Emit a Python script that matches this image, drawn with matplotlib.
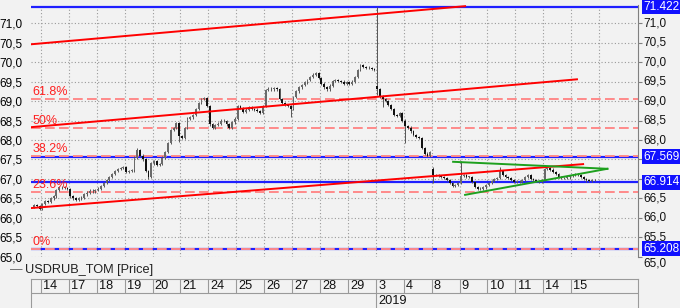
import matplotlib
matplotlib.use("Agg")
import matplotlib.pyplot as plt
import matplotlib.transforms as mtransforms
import numpy as np

plt.rcParams['font.family'] = ['Liberation Sans', 'DejaVu Sans']

# USDRUB_TOM, roughly 10 bars per trading day, closes
day_names = ["", "14", "17", "18", "19", "20", "21", "24", "25", "26", "27", "28", "29",
             "3", "4", "8", "9", "10", "11", "14", "15"]
day_closes = [
    [66.33, 66.30, 66.22],
    [66.35, 66.42, 66.40, 66.50, 66.55, 66.72, 66.78, 66.80, 66.76, 66.74],
    [66.55, 66.50, 66.47, 66.50, 66.52, 66.60, 66.65, 66.70, 66.68, 66.72],
    [66.75, 66.82, 66.90, 66.98, 67.05, 67.12, 67.20, 67.26, 67.28, 67.30],
    [67.18, 67.20, 67.22, 67.55, 67.75, 67.60, 67.50, 67.20, 67.05, 67.40],
    [67.45, 67.35, 67.38, 67.55, 67.70, 67.92, 68.25, 68.30, 68.43, 68.10],
    [68.05, 68.30, 68.55, 68.58, 68.65, 68.80, 68.95, 69.05, 69.08, 68.88],
    [68.40, 68.30, 68.38, 68.42, 68.50, 68.48, 68.40, 68.30, 68.45, 68.55],
    [68.88, 68.82, 68.72, 68.78, 68.85, 68.80, 68.78, 68.75, 68.70, 68.88],
    [69.28, 69.32, 69.30, 69.34, 69.30, 69.05, 68.95, 68.90, 68.88, 68.80],
    [69.10, 69.25, 69.35, 69.42, 69.48, 69.55, 69.62, 69.68, 69.72, 69.60],
    [69.45, 69.35, 69.30, 69.40, 69.52, 69.55, 69.52, 69.50, 69.45, 69.48],
    [69.45, 69.50, 69.62, 69.80, 69.92, 69.88, 69.86, 69.85, 69.82, 69.80],
    [69.30, 69.12, 69.05, 69.00, 68.90, 68.80, 68.65, 68.62, 68.70, 68.50],
    [68.35, 68.32, 68.22, 68.12, 68.08, 68.05, 67.80, 67.65, 67.60, 67.70],
    [67.10, 67.10, 67.08, 67.05, 67.02, 66.97, 66.90, 66.82, 66.85, 66.90],
    [67.08, 67.10, 67.05, 67.05, 66.92, 66.80, 66.75, 66.74, 66.78, 66.85],
    [66.90, 66.95, 67.00, 67.02, 67.20, 67.10, 67.05, 67.02, 66.97, 66.93],
    [66.93, 66.92, 66.98, 67.05, 67.10, 67.00, 66.96, 66.94, 66.93, 66.98],
    [67.25, 67.28, 67.24, 67.18, 67.12, 67.05, 67.02, 67.02, 67.04, 67.08],
    [67.10, 67.12, 67.10, 67.05, 67.00, 66.96, 66.94, 66.97, 66.98],
]
# gaps and long wicks (keyed by bar slot)
open_gaps = {-3: 66.28, 120: 69.40, 140: 67.25}
high_spikes = {34: 67.80, 120: 71.422, 140: 67.30, 150: 67.45, 164: 67.30}
low_spikes = {38: 67.00, 49: 67.95, 89: 68.60, 120: 69.15, 122: 68.85, 130: 67.92, 140: 66.90}

levels_blue = [71.422, 67.569, 66.914, 65.208]
fib_names = ["0%", "23.6%", "38.2%", "50%", "61.8%"]
fib_levels = [65.208, 66.675, 67.582, 68.315, 69.048]
channel_lines = [[(-3.6, 70.46), (152.0, 71.44)],
                 [(-3.6, 68.33), (192.1, 69.56)],
                 [(-3.6, 66.25), (194.3, 67.38)]]
triangle_lines = [[(147.7, 67.44), (203.0, 67.26)],
                  [(152.0, 66.59), (203.0, 67.26)]]

# build bars
slots, closes = [], []
for d, cl in enumerate(day_closes):
    base = -len(cl) if d == 0 else (d - 1) * 10
    for j, c in enumerate(cl):
        slots.append(base + j)
        closes.append(c)
opens, highs, lows = [], [], []
prev = None
for s, c in zip(slots, closes):
    o = open_gaps.get(s, prev if prev is not None else c)
    opens.append(o)
    highs.append(high_spikes.get(s, max(o, c) + 0.03))
    lows.append(low_spikes.get(s, min(o, c) - 0.03))
    prev = c
x = np.array(slots) + 0.5
opens, closes = np.array(opens), np.array(closes)

bg = "#f2f2f2"
fig = plt.figure(figsize=(6.8, 3.08), dpi=100, facecolor=bg)
ax = fig.add_axes([31 / 680, 1 - 257.3 / 308, 607 / 680, 252.3 / 308], facecolor=bg)
xmin, xmax = -3.58, 213.97
ax.set_xlim(xmin, xmax)
ax.set_ylim(64.985, 71.47)

yt = np.arange(65.0, 71.01, 0.5)
ax.set_yticks(yt)
ax.set_yticklabels([f"{v:.1f}".replace(".", ",") for v in yt])
ax.tick_params(axis='y', labelleft=True, labelright=False, labelsize=8.5,
               left=False, right=True, length=3, color="#808080", pad=3)
ax.set_xticks([10 * k for k in range(21)])
ax.tick_params(axis='x', bottom=False, labelbottom=False)
ax.grid(True, color="#9a9a9a", ls=(0, (1, 2)), lw=0.8)
for sp in ["top", "bottom", "left"]:
    ax.spines[sp].set_visible(False)
ax.spines["right"].set_color("#808080")

tr = mtransforms.blended_transform_factory(ax.transAxes, ax.transData)
# right-hand labels; the ones under a value box are hidden like in the terminal
for v in yt[1:]:
    if min(abs(v - lv) for lv in levels_blue) < 0.15:
        continue
    ax.text(1.009, v, f"{v:.1f}".replace(".", ","), transform=tr, fontsize=8.5,
            va="center", ha="left", clip_on=False, color="#111111")
# 65,0 peeks out just below the 65.208 box
ax.text(1.009, 64.985, "65,0", transform=tr, fontsize=8.5, va="top", ha="left",
        clip_on=False, color="#111111", zorder=1)

# candles
ax.vlines(x, lows, highs, color="#555555", lw=0.7, zorder=3)
up = closes >= opens
body_b = np.minimum(opens, closes)
body_h = np.maximum(np.abs(closes - opens), 0.012)
ax.bar(x[up], body_h[up], bottom=body_b[up], width=0.65, color="#6a6a6a", zorder=3)
ax.bar(x[~up], body_h[~up], bottom=body_b[~up], width=0.65, color="#111111", zorder=3)

# horizontal levels
for lv in levels_blue:
    ax.axhline(lv, color="#1f1fff", lw=1.6, zorder=2)
for name, lv in zip(fib_names, fib_levels):
    ax.axhline(lv, color="#ff8a8a", lw=1.4, ls=(0, (5, 2.2)), zorder=2.5)
    ax.text(xmin + 0.6, lv + 0.02, name, color="#ff2020", fontsize=9, va="bottom", ha="left", zorder=5)

for (x0, y0), (x1, y1) in channel_lines:
    ax.plot([x0, x1], [y0, y1], color="#ff0000", lw=1.4, zorder=4)
for (x0, y0), (x1, y1) in triangle_lines:
    ax.plot([x0, x1], [y0, y1], color="#1ea01e", lw=1.4, zorder=4)

# value boxes on the right axis
for lv in levels_blue:
    ax.text(1.009, lv, f"{lv:.3f}", transform=tr, color="white", fontsize=8.5,
            va="center", ha="left", clip_on=False, zorder=10,
            bbox=dict(boxstyle="square,pad=0.12", fc="#1010ff", ec="none"))

# legend line
fig.text(10 / 680, 1 - 270 / 308, "—", color="#606060", fontsize=9, va="center")
fig.text(25 / 680, 1 - 270 / 308, "USDRUB_TOM [Price]", color="#222222", fontsize=9.2, va="center")

# date panel
ax2 = fig.add_axes([31 / 680, 0, 607 / 680, 29 / 308], facecolor=bg)
ax2.set_xlim(xmin, xmax)
ax2.set_ylim(0, 29)
ax2.set_xticks([])
ax2.set_yticks([])
ax2.spines["bottom"].set_visible(False)
for sp in ["top", "left", "right"]:
    ax2.spines[sp].set_color("#9a9a9a")
ax2.axhline(15, color="#9a9a9a", lw=0.8)
for k, name in enumerate(day_names[1:]):
    ax2.vlines(10 * k, 15, 29, color="#9a9a9a", lw=0.8)
    ax2.text(10 * k + 0.8, 22, name, fontsize=9.2, va="center", ha="left", color="#111111")
ax2.vlines(120, 0, 15, color="#9a9a9a", lw=0.8)
ax2.text(120.8, 7.5, "2019", fontsize=9.2, va="center", ha="left", color="#111111")

fig.savefig("out.png", dpi=100, facecolor=bg)
